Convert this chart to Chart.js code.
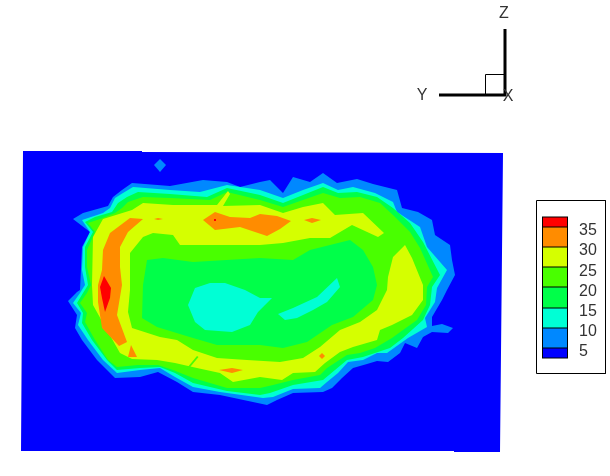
<!DOCTYPE html>
<html>
<head>
<meta charset="utf-8">
<style>
  html, body { margin: 0; padding: 0; background: #fff; }
  canvas { display: block; }
</style>
<script src="https://cdn.jsdelivr.net/npm/chart.js@4"></script>
</head>
<body>
<canvas id="contour" width="610" height="476"></canvas>
<script>
// contour bands, outlines as [x, y]
const level5 = [[23,151],[142,151],[142,152],[503,153],[500,452],[454,452],[454,451],[21,451]];
const level10 = [[73,219],[83,213],[108,206],[113,197],[122,190],[132,183],[170,186],[203,180],[227,182],[240,187],[260,182],[270,180],[283,193],[293,177],[310,182],[323,173],[337,183],[357,179],[373,184],[397,190],[402,208],[418,212],[432,220],[435,235],[450,245],[452,260],[455,275],[447,290],[442,300],[432,317],[432,326],[442,324],[453,328],[448,333],[432,332],[423,337],[417,348],[405,343],[400,353],[388,362],[377,361],[367,364],[353,368],[342,378],[332,388],[323,392],[293,393],[277,400],[267,405],[220,395],[193,392],[177,382],[158,372],[140,377],[115,378],[97,360],[82,340],[75,328],[77,315],[68,301],[77,292],[80,290],[82,247],[90,232]];
const level10Spot = [[160,159],[166,165],[160,172],[154,165]];
const level15 = [[82,220],[103,213],[110,208],[115,198],[123,193],[133,187],[170,190],[200,192],[227,185],[260,190],[283,198],[303,190],[323,183],[338,190],[353,187],[375,193],[393,202],[397,212],[420,227],[427,247],[447,270],[437,288],[435,302],[425,318],[427,327],[408,338],[387,353],[377,353],[363,360],[348,362],[338,373],[327,382],[320,388],[293,389],[273,397],[263,398],[220,392],[193,387],[175,377],[160,368],[140,370],[117,373],[103,360],[88,340],[78,325],[81,313],[73,303],[80,293],[85,285],[82,270],[83,247],[90,232]];
const level20 = [[85,222],[95,217],[112,212],[118,203],[127,197],[138,192],[170,194],[207,197],[227,188],[260,195],[283,203],[303,195],[323,187],[338,193],[357,192],[377,197],[393,208],[410,223],[423,242],[440,275],[432,287],[430,305],[423,320],[403,338],[390,348],[375,353],[363,357],[347,360],[335,370],[323,380],[293,385],[270,393],[260,395],[227,391],[193,383],[175,373],[160,367],[140,368],[117,370],[107,360],[92,340],[82,323],[83,313],[77,303],[83,293],[88,285],[85,267],[85,247],[93,232]];
const level25 = [[88,223],[100,219],[115,213],[122,208],[128,202],[143,197],[170,198],[210,200],[227,192],[260,200],[283,207],[303,200],[323,193],[340,198],[360,197],[380,203],[393,215],[410,232],[420,248],[433,277],[427,287],[426,305],[417,320],[403,330],[392,338],[375,348],[360,353],[347,355],[327,368],[320,375],[293,380],[273,385],[260,388],[227,388],[193,378],[173,370],[158,365],[138,365],[117,367],[108,360],[95,340],[85,322],[87,313],[80,303],[87,293],[91,285],[87,267],[87,250],[95,232]];
const level30 = [[103,219],[132,210],[143,203],[173,205],[217,205],[228,191],[230,194],[223,206],[260,205],[283,213],[303,207],[323,203],[335,215],[363,213],[384,233],[378,237],[352,225],[330,238],[310,238],[283,243],[260,245],[217,245],[180,245],[173,235],[153,233],[143,237],[130,253],[130,290],[128,312],[132,328],[160,337],[177,340],[193,350],[217,358],[247,360],[280,362],[303,358],[320,347],[340,330],[360,322],[377,310],[387,290],[388,277],[393,257],[405,245],[412,258],[423,285],[423,300],[412,315],[392,325],[380,330],[377,340],[353,347],[340,352],[325,363],[315,372],[293,373],[282,380],[260,377],[233,382],[220,373],[197,368],[175,363],[157,360],[132,359],[120,353],[103,323],[93,305],[92,285],[93,237]];
const level25Split = [[187,368],[197,356],[198.5,357],[188.5,369]];
const level20Core = [[143,285],[147,260],[163,258],[193,262],[260,258],[293,260],[310,250],[338,243],[350,240],[363,250],[373,267],[377,285],[373,300],[353,317],[332,325],[307,342],[283,348],[260,345],[217,345],[193,338],[157,327],[142,318]];
const level15Core = [[188,305],[195,288],[210,283],[225,283],[245,290],[260,298],[272,298],[265,305],[258,312],[250,325],[232,332],[205,330],[195,322]];
const level15Streak = [[278,314],[293,308],[317,297],[337,278],[340,287],[327,302],[313,310],[297,318],[285,320]];
const level35Left = [[130,218],[143,219],[128,232],[120,247],[120,267],[122,285],[117,315],[127,342],[119,346],[102,328],[98,302],[98,285],[102,270],[103,250],[110,233]];
const level35Top = [[203,220],[215,212],[230,217],[250,218],[260,214],[277,216],[291,221],[280,229],[267,236],[240,227],[215,230]];
const level35Dashes = [
  [[154,219],[158,218],[163,219],[158,220]],
  [[304,220],[312,218],[321,220],[312,223]],
  [[219,370],[232,368],[243,370],[232,373]],
  [[131,345],[137,357],[128,357]],
  [[319,356],[322,353],[325,356],[322,359]]
];
const level40 = [[104,276],[111,288],[110,298],[105,312],[102,298],[100,287]];
const level40Dot = [[214,219],[216,219],[216,221],[214,221]];

const bandColors = ["#0000ff", "#0088ff", "#00ffd5", "#00ff49", "#49ff00", "#d5ff00", "#ff8c00", "#ff0000"];

// legend
const legendLabels = ["35", "30", "25", "20", "15", "10", "5"];
const legendLabelY = [231, 251, 272, 292, 312, 332, 352];
const legendEdges = [358, 348, 328, 308, 287, 267, 247, 227, 217];

function toPoints(list) {
  return list.map((p) => ({ x: p[0], y: p[1] }));
}

function shape(list, color) {
  return {
    data: toPoints(list),
    showLine: true,
    fill: "shape",
    backgroundColor: color,
    borderWidth: 0,
    pointRadius: 0,
    tension: 0
  };
}

function stroke(list, width, color, closed) {
  const pts = toPoints(closed ? list.concat([list[0]]) : list);
  return {
    data: pts,
    showLine: true,
    fill: false,
    borderColor: color,
    borderWidth: width,
    pointRadius: 0,
    tension: 0
  };
}

const layers = [
  shape(level5, bandColors[0]),
  shape(level10, bandColors[1]),
  shape(level10Spot, bandColors[1]),
  shape(level15, bandColors[2]),
  shape(level20, bandColors[3]),
  shape(level25, bandColors[4]),
  shape(level30, bandColors[5]),
  shape(level25Split, bandColors[4]),
  shape(level20Core, bandColors[3]),
  shape(level15Core, bandColors[2]),
  shape(level15Streak, bandColors[2]),
  shape(level35Left, bandColors[6]),
  shape(level35Top, bandColors[6])
];
level35Dashes.forEach((d) => layers.push(shape(d, bandColors[6])));
layers.push(shape(level40, bandColors[7]));
layers.push(shape(level40Dot, bandColors[7]));

// legend box and colour bar
layers.push(stroke([[536.5,200.5],[605.5,200.5],[605.5,373.5],[536.5,373.5]], 1, "#000", true));
legendEdges.slice(0, -1).forEach((bottom, i) => {
  const top = legendEdges[i + 1];
  layers.push(shape([[542,bottom],[568,bottom],[568,top],[542,top]], bandColors[i]));
});
legendEdges.forEach((y) => layers.push(stroke([[542,y],[568,y]], 1, "#000")));
layers.push(stroke([[542.5,217],[542.5,358]], 1, "#000"));
layers.push(stroke([[567.5,217],[567.5,358]], 1, "#000"));

// axis triad
layers.push(stroke([[505,29],[505,96]], 3, "#000"));
layers.push(stroke([[439,95],[506,95]], 3, "#000"));
layers.push(stroke([[485.5,95],[485.5,74.5],[505,74.5]], 1, "#000"));

const textPlugin = {
  id: "plotText",
  afterDraw(chart) {
    const ctx = chart.ctx;
    const sx = chart.scales.x;
    const sy = chart.scales.y;
    ctx.save();
    ctx.fillStyle = "#333";
    ctx.font = '16px "Liberation Sans"';
    ctx.textBaseline = "middle";
    ctx.textAlign = "left";
    legendLabels.forEach((t, i) => {
      ctx.fillText(t, sx.getPixelForValue(579), sy.getPixelForValue(legendLabelY[i]));
    });
    ctx.textAlign = "center";
    ctx.fillText("Z", sx.getPixelForValue(504), sy.getPixelForValue(14));
    ctx.fillText("Y", sx.getPixelForValue(422), sy.getPixelForValue(96));
    ctx.fillText("X", sx.getPixelForValue(508), sy.getPixelForValue(97));
    ctx.restore();
  }
};

new Chart(document.getElementById("contour"), {
  type: "scatter",
  data: { datasets: layers.reverse() }, // first dataset is painted last
  options: {
    responsive: false,
    animation: false,
    layout: { padding: 0 },
    plugins: { legend: { display: false }, tooltip: { enabled: false } },
    scales: {
      x: { type: "linear", min: 0, max: 610, display: false },
      y: { type: "linear", min: 0, max: 476, reverse: true, display: false }
    }
  },
  plugins: [textPlugin]
});
</script>
</body>
</html>
